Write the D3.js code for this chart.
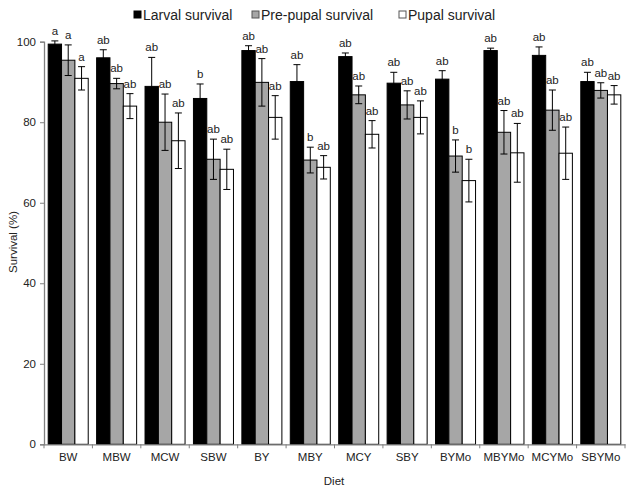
<!DOCTYPE html>
<html><head><meta charset="utf-8">
<script src="https://cdn.jsdelivr.net/npm/d3@7"></script>
<style>body{margin:0;background:#fff}svg{display:block;font-family:"Liberation Sans",Arial,sans-serif}</style>
</head><body><svg id="c" width="633" height="487"></svg>
<script>
const categories = ["BW","MBW","MCW","SBW","BY","MBY","MCY","SBY","BYMo","MBYMo","MCYMo","SBYMo"];
const seriesNames = ["Larval survival","Pre-pupal survival","Pupal survival"];
const larval = [99.4,96.0,88.9,85.9,97.8,90.1,96.3,89.7,90.7,97.8,96.6,90.1];
const larvalErr = [0.8,2.0,7.2,3.6,1.2,4.2,0.9,2.7,2.1,0.6,2.1,2.3];
const prepupal = [95.4,89.6,80.0,70.8,89.9,70.6,86.8,84.3,71.6,77.5,83.0,87.9];
const prepupalErr = [3.8,1.3,7.0,5.0,5.9,3.2,2.2,3.5,4.0,5.4,5.0,1.9];
const pupal = [90.9,84.0,75.4,68.3,81.2,68.8,77.0,81.2,65.5,72.4,72.3,86.8];
const pupalErr = [2.9,3.1,6.9,5.0,5.4,2.9,3.4,4.1,5.3,7.3,6.5,2.3];
const larvalLbl = ["a","ab","ab","b","ab","ab","ab","ab","ab","ab","ab","ab"];
const prepupalLbl = ["a","ab","ab","ab","ab","b","ab","ab","b","ab","ab","ab"];
const pupalLbl = ["a","ab","ab","ab","ab","ab","ab","ab","b","ab","ab","ab"];
const yTicks = [0,20,40,60,80,100];

const fills = ["#000000","#a6a6a6","#ffffff"];
const values = [larval, prepupal, pupal];
const errs = [larvalErr, prepupalErr, pupalErr];
const lbls = [larvalLbl, prepupalLbl, pupalLbl];

const svg = d3.select("#c");
const x0 = d3.scaleBand().domain(categories).range([44,625]).paddingInner(0).paddingOuter(0);
const x1 = d3.scaleBand().domain(d3.range(3)).range([4.2, x0.bandwidth()-4.2]).padding(0);
const y = d3.scaleLinear().domain([0,100]).range([444.3,41.7]);
const axisCol = "#808080", textCol = "#222";

// bars
const rows = [];
categories.forEach((c,i)=>{for(let s=0;s<3;s++)rows.push({c,s,v:values[s][i],e:errs[s][i],l:lbls[s][i]});});
const g = svg.append("g");
g.selectAll("rect.bar").data(rows).join("rect").attr("class","bar")
  .attr("x",d=>x0(d.c)+x1(d.s)).attr("width",x1.bandwidth())
  .attr("y",d=>y(d.v)).attr("height",d=>y(0)-y(d.v))
  .attr("fill",d=>fills[d.s]).attr("stroke","#000").attr("stroke-width",1);
// error bars
const cx = d=>x0(d.c)+x1(d.s)+x1.bandwidth()/2;
g.selectAll("line.eb").data(rows).join("line").attr("class","eb")
  .attr("x1",cx).attr("x2",cx).attr("y1",d=>y(d.v+d.e)).attr("y2",d=>y(d.v-d.e))
  .attr("stroke","#000").attr("stroke-width",1);
["+","-"].forEach(sg=>{
  g.selectAll("line.cap"+(sg=="+"?"t":"b")).data(rows).join("line").attr("class","cap"+(sg=="+"?"t":"b"))
   .attr("x1",d=>cx(d)-3.5).attr("x2",d=>cx(d)+3.5)
   .attr("y1",d=>y(sg=="+"?d.v+d.e:d.v-d.e)).attr("y2",d=>y(sg=="+"?d.v+d.e:d.v-d.e))
   .attr("stroke","#000").attr("stroke-width",1);
});
// significance labels
g.selectAll("text.sig").data(rows).join("text").attr("class","sig")
  .attr("x",cx).attr("y",d=>y(d.v+d.e)-6).attr("text-anchor","middle")
  .attr("font-size","11.5px").attr("fill",textCol).text(d=>d.l);

// y axis
const ya = svg.append("g").attr("transform","translate(44,0)")
  .call(d3.axisLeft(y).tickValues(yTicks).tickSize(4).tickPadding(4));
ya.select(".domain").attr("stroke",axisCol).attr("stroke-width",1.3);
ya.selectAll(".tick line").attr("stroke",axisCol);
ya.selectAll(".tick text").attr("font-size","11.5px").attr("fill",textCol).attr("font-family","Liberation Sans, Arial, sans-serif");

// x axis
const xa = svg.append("g").attr("transform","translate(0,444.3)")
  .call(d3.axisBottom(x0).tickSize(0).tickPadding(9));
xa.select(".domain").attr("stroke",axisCol).attr("stroke-width",1.3);
xa.selectAll(".tick text").attr("font-size","11.5px").attr("fill",textCol).attr("font-family","Liberation Sans, Arial, sans-serif");
const bounds = categories.map(c=>x0(c)).concat([x0.range()[1]]);
xa.selectAll("line.sep").data(bounds).join("line").attr("class","sep")
  .attr("x1",d=>d).attr("x2",d=>d).attr("y1",0).attr("y2",4).attr("stroke",axisCol);

// axis titles
svg.append("text").attr("transform","translate(13,242) rotate(-90)").attr("text-anchor","middle")
  .attr("font-size","11.5px").attr("fill",textCol).attr("dy","0.35em").text("Survival (%)");
svg.append("text").attr("x",334).attr("y",481).attr("text-anchor","middle").attr("dy","0.35em")
  .attr("font-size","11.5px").attr("fill",textCol).text("Diet");

// legend
const legX = [134,252,399];
const lg = svg.append("g");
seriesNames.forEach((n,i)=>{
  lg.append("rect").attr("x",legX[i]).attr("y",11).attr("width",7).attr("height",7)
    .attr("fill",fills[i]).attr("stroke",i==0?"#000":"#555").attr("stroke-width",1);
  lg.append("text").attr("x",legX[i]+9).attr("y",20).attr("font-size","14px").attr("fill",textCol).text(n);
});
</script></body></html>
